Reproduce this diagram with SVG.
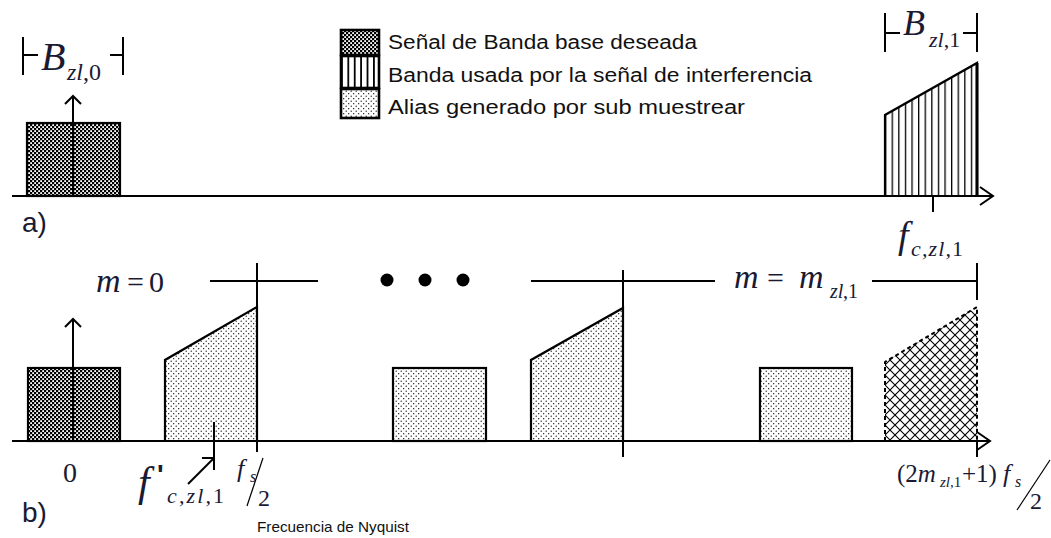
<svg xmlns="http://www.w3.org/2000/svg" width="1051" height="538" viewBox="0 0 1051 538">
<style>
.ln{stroke:#000;stroke-width:2;fill:none;stroke-linecap:butt}
.sh{stroke:#000;stroke-width:2.2;stroke-linejoin:miter}
.lg{font-family:"Liberation Sans",Arial,sans-serif;font-size:20px;fill:#111}
.mi{font-family:"Liberation Serif","Times New Roman",serif;font-style:italic;fill:#1a1a33}
.mu{font-family:"Liberation Serif","Times New Roman",serif;font-style:normal;fill:#1a1a33}
.lab{font-family:"Liberation Sans",Arial,sans-serif;font-size:28px;fill:#1a1a33}
</style>
<defs>
<pattern id="chk" patternUnits="userSpaceOnUse" width="4" height="4">
<rect width="4" height="4" fill="#000"/>
<rect x="0.2" y="0.2" width="1.8" height="1.8" fill="#fff"/>
<rect x="2.2" y="2.2" width="1.8" height="1.8" fill="#fff"/>
</pattern>
<pattern id="vl" patternUnits="userSpaceOnUse" x="885" width="6.6" height="10">
<rect width="6.6" height="10" fill="#fff"/>
<rect x="0" width="1.3" height="10" fill="#000"/>
</pattern>
<pattern id="vl2" patternUnits="userSpaceOnUse" x="341" width="6.4" height="10">
<rect width="6.4" height="10" fill="#fff"/>
<rect x="0" width="1.8" height="10" fill="#000"/>
</pattern>
<pattern id="dot" patternUnits="userSpaceOnUse" width="5" height="5">
<rect width="5" height="5" fill="#fff"/>
<circle cx="1.2" cy="1.2" r="0.65" fill="#000"/>
<circle cx="3.7" cy="3.7" r="0.65" fill="#000"/>
</pattern>
<pattern id="xh" patternUnits="userSpaceOnUse" width="10" height="10">
<rect width="10" height="10" fill="#fff"/>
<path d="M0,0 L10,10 M10,0 L0,10" stroke="#000" stroke-width="1.1"/>
</pattern>
</defs>
<rect width="1051" height="538" fill="#fff"/>

<g id="legend">
<rect x="341" y="30" width="38" height="25" fill="url(#chk)" stroke="#000" stroke-width="2.6"/>
<rect x="341" y="56" width="38" height="32" fill="url(#vl2)" stroke="#000" stroke-width="2.6"/>
<rect x="341" y="89" width="38" height="29" fill="url(#dot)" stroke="#000" stroke-width="2.6"/>
<text class="lg" x="388" y="49" textLength="309" lengthAdjust="spacingAndGlyphs">Señal de Banda base deseada</text>
<text class="lg" x="388" y="82" textLength="424" lengthAdjust="spacingAndGlyphs">Banda usada por la señal de interferencia</text>
<text class="lg" x="388" y="114" textLength="357" lengthAdjust="spacingAndGlyphs">Alias generado por sub muestrear</text>
</g>

<g id="band-a-base">
<rect x="27" y="123" width="93" height="73" fill="url(#chk)" class="sh"/>
</g>
<g id="band-a-interf">
<polygon points="885,196 885,115 977,63 977,196" fill="url(#vl)" class="sh"/>
<line x1="977" y1="63" x2="977" y2="196" stroke="#000" stroke-width="3"/>
</g>

<g id="band-b-base">
<rect x="28" y="368" width="92" height="73" fill="url(#chk)" class="sh"/>
</g>
<g id="alias-1">
<polygon points="165,441 165,360 257,307 257,441" fill="url(#dot)" class="sh"/>
</g>
<g id="alias-2">
<rect x="393" y="368" width="93" height="73" fill="url(#dot)" class="sh"/>
</g>
<g id="alias-3">
<polygon points="531,441 531,360 623,308 623,441" fill="url(#dot)" class="sh"/>
</g>
<g id="alias-4">
<rect x="760" y="368" width="92" height="73" fill="url(#dot)" class="sh"/>
</g>
<g id="band-b-interf">
<polygon points="885,441 885,362 977,307 977,441" fill="url(#xh)" stroke="#000" stroke-width="2" stroke-dasharray="4,3"/>
</g>
<g id="dots">
<circle cx="387" cy="280" r="6.5" fill="#000"/>
<circle cx="425" cy="280" r="6.5" fill="#000"/>
<circle cx="463" cy="280" r="6.5" fill="#000"/>
</g>

<g id="connectors">
<line class="ln" x1="12" y1="196" x2="992" y2="196"/>
<polyline class="ln" points="980,187 993,196 980,205"/>
<line class="ln" x1="73" y1="196" x2="73" y2="96" stroke-width="3"/>
<polyline class="ln" points="65,104 73,96 81,104"/>
<line class="ln" x1="933" y1="196" x2="933" y2="212"/>
<line class="ln" x1="23" y1="37" x2="23" y2="75"/>
<line class="ln" x1="23" y1="55" x2="38" y2="55"/>
<line class="ln" x1="110" y1="55" x2="123" y2="55"/>
<line class="ln" x1="123" y1="37" x2="123" y2="75"/>
<line class="ln" x1="885" y1="13" x2="885" y2="52"/>
<line class="ln" x1="885" y1="33" x2="900" y2="33"/>
<line class="ln" x1="963" y1="33" x2="977" y2="33"/>
<line class="ln" x1="977" y1="13" x2="977" y2="52"/>
<line class="ln" x1="12" y1="441" x2="989" y2="441"/>
<polyline class="ln" points="977,432 990,441 977,450"/>
<line class="ln" x1="73" y1="441" x2="73" y2="319" stroke-width="3"/>
<polyline class="ln" points="65,327 73,319 81,327"/>
<line class="ln" x1="210" y1="281" x2="318" y2="281"/>
<line class="ln" x1="257" y1="263" x2="257" y2="452"/>
<line class="ln" x1="531" y1="281" x2="715" y2="281"/>
<line class="ln" x1="623" y1="270" x2="623" y2="457"/>
<line class="ln" x1="872" y1="281" x2="977" y2="281"/>
<line class="ln" x1="977" y1="263" x2="977" y2="300"/>
<line class="ln" x1="977" y1="441" x2="977" y2="457"/>
<line class="ln" x1="214" y1="422" x2="214" y2="470"/>
<line class="ln" x1="188" y1="484" x2="214" y2="458" stroke-width="2.4"/>
<line class="ln" x1="202" y1="458" x2="214" y2="458"/>
<line stroke="#000" stroke-width="1.2" x1="263" y1="458" x2="247" y2="506"/>
<line stroke="#000" stroke-width="1.2" x1="1050" y1="460" x2="1017" y2="510"/>
</g>

<g id="labels">
<text class="mi" x="41" y="70" font-size="40">B</text>
<text class="mi" x="67" y="80" font-size="24">zl<tspan class="mu">,0</tspan></text>
<text class="mi" x="903" y="35" font-size="36">B</text>
<text class="mi" x="929" y="47" font-size="22">zl<tspan class="mu">,1</tspan></text>
<text class="mi" x="898" y="248" font-size="38">f</text>
<text class="mi" x="911" y="256" font-size="22" textLength="52">c,zl,<tspan class="mu">1</tspan></text>
<text class="lab" x="22" y="232">a)</text>
<text class="lab" x="22" y="522">b)</text>
<text class="mi" x="96" y="292" font-size="34">m</text>
<text class="mu" x="127" y="292" font-size="30">=</text>
<text class="mu" x="149" y="292" font-size="30">0</text>
<text class="mi" x="734" y="288" font-size="34">m</text>
<text class="mu" x="767" y="288" font-size="30">=</text>
<text class="mi" x="799" y="288" font-size="34">m</text>
<text class="mi" x="830" y="298" font-size="20" textLength="28">zl<tspan class="mu">,1</tspan></text>
<text class="mu" x="63" y="482" font-size="28">0</text>
<text class="mi" x="138" y="496" font-size="42">f</text>
<text x="157" y="484" font-family="'Liberation Sans',Arial,sans-serif" font-weight="bold" font-size="28" fill="#1a1a33">'</text>
<text class="mi" x="167" y="503" font-size="22" textLength="57">c,zl,<tspan class="mu">1</tspan></text>
<text class="mi" x="237" y="477" font-size="26">f</text>
<text class="mi" x="250" y="482" font-size="16">s</text>
<text class="mu" x="258" y="506" font-size="24">2</text>
<text class="mu" x="897" y="482" font-size="25">(2<tspan class="mi">m</tspan></text>
<text class="mi" x="940" y="487" font-size="15">zl,<tspan class="mu">1</tspan></text>
<text class="mu" x="962" y="482" font-size="25">+1)</text>
<text class="mi" x="1003" y="482" font-size="26">f</text>
<text class="mi" x="1015" y="487" font-size="16">s</text>
<text class="mu" x="1030" y="509" font-size="24">2</text>
<text x="257" y="532" font-family="'Liberation Sans',Arial,sans-serif" font-size="15" fill="#111" textLength="152" lengthAdjust="spacingAndGlyphs">Frecuencia de Nyquist</text>
</g>
</svg>
